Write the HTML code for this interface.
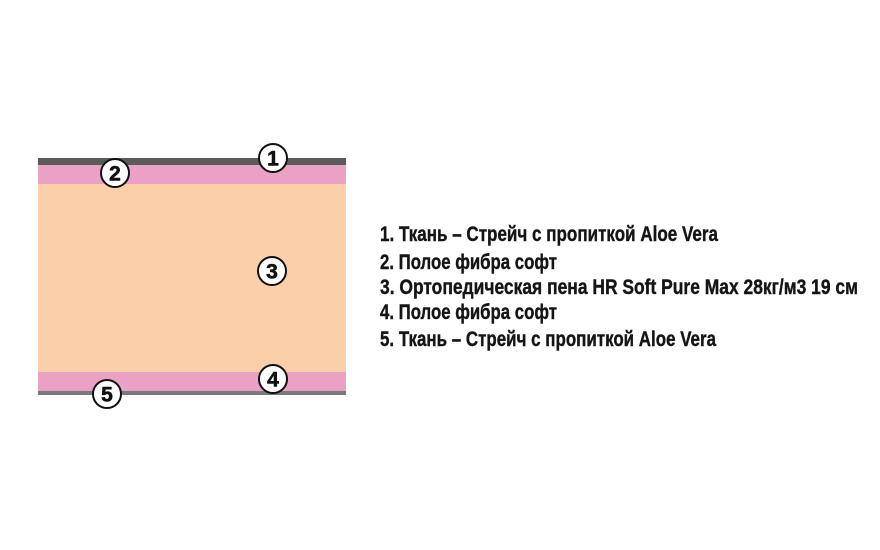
<!DOCTYPE html>
<html><head><meta charset="utf-8"><style>
html,body{margin:0;padding:0;background:#fff;width:880px;height:550px;overflow:hidden}
</style></head><body>
<svg width="880" height="550" viewBox="0 0 880 550" xmlns="http://www.w3.org/2000/svg">
<rect x="38" y="184" width="308" height="188" fill="#fbcfa9"/>
<rect x="38" y="165" width="308" height="19" fill="#eba0c6"/>
<rect x="38" y="372" width="308" height="19" fill="#eba0c6"/>
<rect x="38" y="158" width="308" height="7" fill="#5b5b5b"/>
<rect x="38" y="391" width="308" height="4" fill="#7a7a7a"/>
<g font-family="Liberation Sans, DejaVu Sans, sans-serif" font-weight="bold" font-size="21" text-anchor="middle" fill="#111">
<g stroke="#111" stroke-width="2" fill="#fff">
<circle cx="273" cy="158" r="14"/>
<circle cx="115" cy="173" r="14"/>
<circle cx="272" cy="271" r="14"/>
<circle cx="273" cy="379" r="14"/>
<circle cx="107" cy="394" r="14"/>
</g>
<g stroke="#111" stroke-width="0.6">
<text x="273" y="165.5">1</text>
<text x="115" y="180.5">2</text>
<text x="272" y="278.5">3</text>
<text x="273" y="386.5">4</text>
<text x="107" y="401.5">5</text>
</g>
</g>
<g font-family="Liberation Sans, DejaVu Sans, sans-serif" font-weight="bold" font-size="21" fill="#151515" stroke="#151515" stroke-width="0.4">
<text x="380" y="241" textLength="338" lengthAdjust="spacingAndGlyphs">1. Ткань – Стрейч с пропиткой Aloe Vera</text>
<text x="380" y="269" textLength="177" lengthAdjust="spacingAndGlyphs">2. Полое фибра софт</text>
<text x="380" y="294" textLength="478" lengthAdjust="spacingAndGlyphs">3. Ортопедическая пена HR Soft Pure Max 28кг/м3 19 см</text>
<text x="380" y="319" textLength="177" lengthAdjust="spacingAndGlyphs">4. Полое фибра софт</text>
<text x="380" y="346" textLength="336" lengthAdjust="spacingAndGlyphs">5. Ткань – Стрейч с пропиткой Aloe Vera</text>
</g>
</svg>
</body></html>
